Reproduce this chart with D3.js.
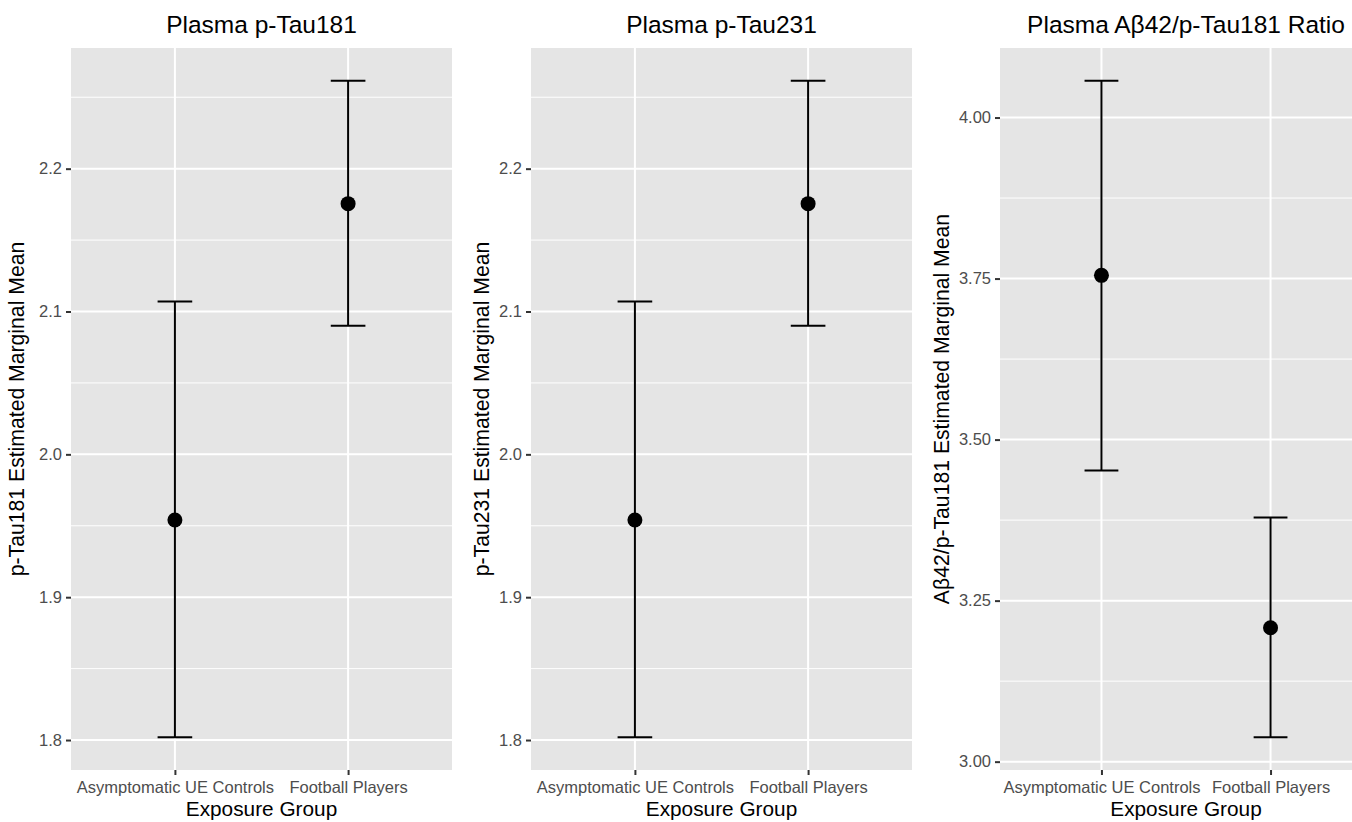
<!DOCTYPE html>
<html>
<head>
<meta charset="utf-8">
<script src="https://cdn.jsdelivr.net/npm/d3@7"></script>
<style>
  html, body { margin: 0; padding: 0; background: #ffffff; }
  svg { display: block; font-family: "Liberation Sans", Arial, Helvetica, sans-serif; }
</style>
</head>
<body>
<svg id="chart" width="1352" height="822"></svg>
<script>
// ---- Data ----
const categories = ["Asymptomatic UE Controls", "Football Players"];

const titles = ["Plasma p-Tau181", "Plasma p-Tau231", "Plasma A\u03b242/p-Tau181 Ratio"];
const yTitles = ["p-Tau181 Estimated Marginal Mean", "p-Tau231 Estimated Marginal Mean", "A\u03b242/p-Tau181 Estimated Marginal Mean"];
const xTitle = "Exposure Group";

const tau181Mean  = [1.954, 2.1755];
const tau181Lower = [1.802, 2.090];
const tau181Upper = [2.107, 2.2615];

const tau231Mean  = [1.954, 2.1755];
const tau231Lower = [1.802, 2.090];
const tau231Upper = [2.107, 2.2615];

const ratioMean  = [3.755, 3.208];
const ratioLower = [3.452, 3.038];
const ratioUpper = [4.057, 3.379];

const tau181Ticks = [1.8, 1.9, 2.0, 2.1, 2.2];
const tau231Ticks = [1.8, 1.9, 2.0, 2.1, 2.2];
const ratioTicks  = [3.00, 3.25, 3.50, 3.75, 4.00];
const tickDecimals = [1, 1, 2];

// ---- Layout ----
const panels = [
  { x0: 71,   x1: 452,  mean: tau181Mean, lower: tau181Lower, upper: tau181Upper, ticks: tau181Ticks, yTitleX: 24 },
  { x0: 531,  x1: 912,  mean: tau231Mean, lower: tau231Lower, upper: tau231Upper, ticks: tau231Ticks, yTitleX: 489 },
  { x0: 1000, x1: 1372, mean: ratioMean,  lower: ratioLower,  upper: ratioUpper,  ticks: ratioTicks,  yTitleX: 949 }
];
const panelTop = 48, panelBottom = 770;

const svg = d3.select("#chart");

panels.forEach((p, i) => {
  const lo = d3.min(p.lower), hi = d3.max(p.upper);
  const pad = (hi - lo) * 0.05;
  const y = d3.scaleLinear().domain([lo - pad, hi + pad]).range([panelBottom, panelTop]);
  const x = d3.scalePoint().domain(categories).range([p.x0, p.x1]).padding(0.6);
  const step = x.step();

  const g = svg.append("g");

  // panel background
  g.append("rect").attr("x", p.x0).attr("y", panelTop)
    .attr("width", p.x1 - p.x0).attr("height", panelBottom - panelTop)
    .attr("fill", "#E5E5E5");

  // minor gridlines
  const major = p.ticks;
  const minor = [];
  const d = major[1] - major[0];
  for (let k = -1; k < major.length; k++) {
    const v = major[0] + d * (k + 0.5);
    if (v > y.domain()[0] && v < y.domain()[1]) minor.push(v);
  }
  g.selectAll(".minor").data(minor).enter().append("line")
    .attr("x1", p.x0).attr("x2", p.x1)
    .attr("y1", v => y(v)).attr("y2", v => y(v))
    .attr("stroke", "#ffffff").attr("stroke-width", 1);

  // major gridlines
  g.selectAll(".majorY").data(major).enter().append("line")
    .attr("x1", p.x0).attr("x2", p.x1)
    .attr("y1", v => y(v)).attr("y2", v => y(v))
    .attr("stroke", "#ffffff").attr("stroke-width", 2);
  g.selectAll(".majorX").data(categories).enter().append("line")
    .attr("x1", c => x(c)).attr("x2", c => x(c))
    .attr("y1", panelTop).attr("y2", panelBottom)
    .attr("stroke", "#ffffff").attr("stroke-width", 2);

  // y axis
  const yAxis = d3.axisLeft(y).tickValues(major)
    .tickFormat(d3.format("." + tickDecimals[i] + "f"))
    .tickSize(5).tickPadding(4);
  const ya = g.append("g").attr("transform", `translate(${p.x0},0)`).call(yAxis);
  ya.select(".domain").remove();
  ya.selectAll(".tick line").attr("stroke", "#333333").attr("stroke-width", 2);
  ya.selectAll(".tick text").attr("fill", "#4D4D4D").attr("font-size", 16.5)
    .attr("font-family", "Liberation Sans, Arial, sans-serif");

  // x axis
  const xAxis = d3.axisBottom(x).tickSize(5).tickPadding(5);
  const xa = g.append("g").attr("transform", `translate(0,${panelBottom})`).call(xAxis);
  xa.select(".domain").remove();
  xa.selectAll(".tick line").attr("stroke", "#333333").attr("stroke-width", 2);
  xa.selectAll(".tick text").attr("fill", "#4D4D4D").attr("font-size", 16.5)
    .attr("font-family", "Liberation Sans, Arial, sans-serif")
    .attr("dy", null).attr("y", 22.5);

  // error bars
  const half = step * 0.1;
  const rows = categories.map((c, j) => ({ c, m: p.mean[j], lo: p.lower[j], hi: p.upper[j] }));
  const eb = g.selectAll(".eb").data(rows).enter().append("g");
  eb.append("line").attr("x1", r => x(r.c)).attr("x2", r => x(r.c))
    .attr("y1", r => y(r.lo)).attr("y2", r => y(r.hi))
    .attr("stroke", "#000").attr("stroke-width", 2);
  eb.append("line").attr("x1", r => x(r.c) - half).attr("x2", r => x(r.c) + half)
    .attr("y1", r => y(r.hi)).attr("y2", r => y(r.hi))
    .attr("stroke", "#000").attr("stroke-width", 2);
  eb.append("line").attr("x1", r => x(r.c) - half).attr("x2", r => x(r.c) + half)
    .attr("y1", r => y(r.lo)).attr("y2", r => y(r.lo))
    .attr("stroke", "#000").attr("stroke-width", 2);
  eb.append("circle").attr("cx", r => x(r.c)).attr("cy", r => y(r.m))
    .attr("r", 7.5).attr("fill", "#000");

  // titles
  const cx = (p.x0 + p.x1) / 2;
  g.append("text").attr("x", cx).attr("y", 33).attr("text-anchor", "middle")
    .attr("font-size", 24.5).attr("fill", "#000").text(titles[i]);
  g.append("text").attr("x", cx).attr("y", 816).attr("text-anchor", "middle")
    .attr("font-size", 20.8).attr("fill", "#000").text(xTitle);
  g.append("text")
    .attr("transform", `translate(${p.yTitleX},${(panelTop + panelBottom) / 2}) rotate(-90)`)
    .attr("text-anchor", "middle")
    .attr("font-size", 21.2).attr("fill", "#000").text(yTitles[i]);
});
</script>
</body>
</html>
